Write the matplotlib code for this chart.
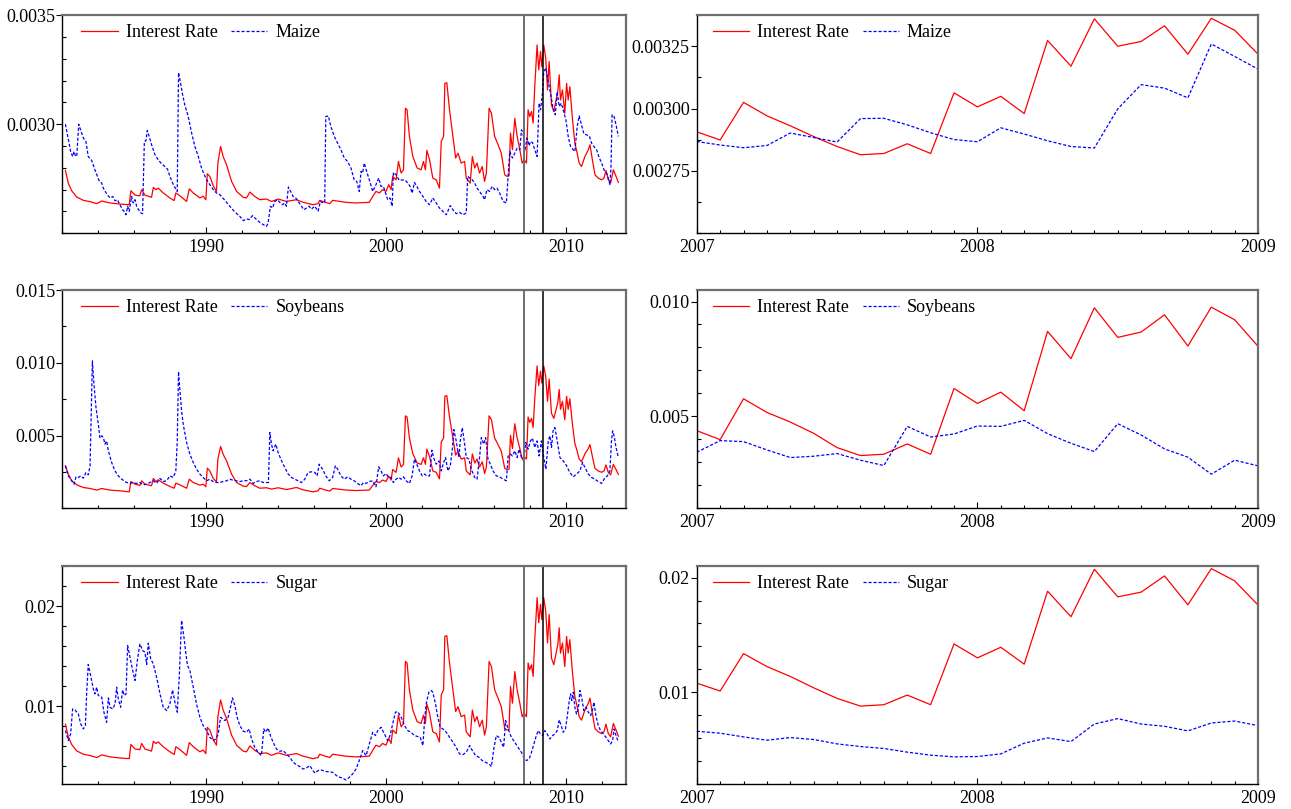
import numpy as np
import matplotlib
matplotlib.use("Agg")
import matplotlib.pyplot as plt
from matplotlib.ticker import MultipleLocator

plt.rcParams['font.family'] = ['Liberation Serif', 'DejaVu Serif']
plt.rcParams['font.size'] = 13

# ---- full sample, interest rate (same dates for all three panels) ----
rate_years = [
    1982.17, 1982.33, 1982.52, 1982.80, 1983.17, 1983.54, 1983.91, 1984.19, 1984.65, 1985.20,
    1985.72, 1985.81, 1986.04, 1986.31, 1986.41, 1986.59, 1986.96, 1987.06, 1987.20, 1987.33,
    1987.61, 1987.98, 1988.22, 1988.31, 1988.54, 1988.91, 1989.06, 1989.28, 1989.65, 1989.83,
    1989.98, 1990.06, 1990.20, 1990.39, 1990.57, 1990.65, 1990.80, 1990.94, 1991.13, 1991.41,
    1991.69, 1992.06, 1992.24, 1992.43, 1992.70, 1992.98, 1993.35, 1993.63, 1994.00, 1994.46,
    1995.02, 1995.39, 1995.94, 1996.22, 1996.31, 1996.59, 1996.87,
    1997.03, 1997.77, 1998.33, 1999.07, 1999.26, 1999.44, 1999.63, 1999.81, 2000.00, 2000.15,
    2000.28, 2000.37, 2000.56, 2000.69, 2000.84, 2000.97, 2001.08, 2001.17, 2001.30, 2001.49,
    2001.73, 2001.95, 2002.08, 2002.19, 2002.27, 2002.42, 2002.60, 2002.79, 2002.97, 2003.07,
    2003.20, 2003.27, 2003.38, 2003.53, 2003.72, 2003.87, 2004.00, 2004.18, 2004.37, 2004.46,
    2004.68, 2004.80, 2004.93, 2005.06, 2005.20, 2005.35, 2005.48, 2005.58, 2005.73, 2005.86,
    2006.04, 2006.23, 2006.41, 2006.60, 2006.73, 2006.84, 2006.92, 2007.03, 2007.16, 2007.29,
    2007.44, 2007.57, 2007.68, 2007.81, 2007.90, 2007.99, 2008.09, 2008.18, 2008.27, 2008.33,
    2008.40, 2008.49, 2008.59, 2008.66, 2008.77, 2008.88, 2008.98, 2009.07, 2009.20, 2009.33,
    2009.48, 2009.55, 2009.63, 2009.70, 2009.81, 2009.94, 2010.04, 2010.13, 2010.22, 2010.37,
    2010.50, 2010.63, 2010.74, 2010.87, 2011.06, 2011.25, 2011.34, 2011.49, 2011.62, 2011.80,
    2011.99, 2012.12, 2012.23, 2012.36, 2012.49, 2012.64, 2012.79, 2012.92]

rate_maize = [
    0.002788, 0.002730, 0.002695, 0.002666, 0.002651, 0.002645, 0.002636, 0.002648, 0.002639, 0.002634,
    0.002631, 0.002695, 0.002675, 0.002672, 0.002700, 0.002675, 0.002665, 0.002710, 0.002700, 0.002707,
    0.002685, 0.002662, 0.002650, 0.002685, 0.002672, 0.002646, 0.002704, 0.002685, 0.002662, 0.002670,
    0.002654, 0.002773, 0.002761, 0.002718, 0.002692, 0.002822, 0.002898, 0.002852, 0.002814, 0.002738,
    0.002692, 0.002665, 0.002662, 0.002689, 0.002669, 0.002654, 0.002657, 0.002646, 0.002657, 0.002646,
    0.002654, 0.002642, 0.002631, 0.002636, 0.002651, 0.002643, 0.002636,
    0.002651, 0.002642, 0.002639, 0.002642, 0.002669, 0.002692, 0.002685, 0.002700, 0.002692, 0.002723,
    0.002700, 0.002761, 0.002745, 0.002829, 0.002776, 0.002791, 0.003073, 0.003066, 0.002944, 0.002852,
    0.002799, 0.002791, 0.002829, 0.002791, 0.002880, 0.002837, 0.002753, 0.002745, 0.002707, 0.002921,
    0.002944, 0.003187, 0.003190, 0.003066, 0.002944, 0.002845, 0.002867, 0.002822, 0.002829, 0.002753,
    0.002730, 0.002852, 0.002799, 0.002822, 0.002776, 0.002806, 0.002738, 0.002776, 0.003073, 0.003050,
    0.002944, 0.002906, 0.002867, 0.002768, 0.002761, 0.002764, 0.002959, 0.002883, 0.003027, 0.002944,
    0.002883, 0.002822, 0.002837, 0.002822, 0.003066, 0.003035, 0.003058, 0.003005, 0.003172, 0.003264,
    0.003363, 0.003249, 0.003333, 0.003264, 0.003363, 0.003302, 0.003157, 0.003287, 0.003088, 0.003058,
    0.003119, 0.003149, 0.003226, 0.003111, 0.003157, 0.003050, 0.003187, 0.003111, 0.003172, 0.003020,
    0.002913, 0.002867, 0.002822, 0.002806, 0.002852, 0.002883, 0.002906, 0.002829, 0.002768, 0.002753,
    0.002745, 0.002753, 0.002788, 0.002745, 0.002730, 0.002791, 0.002761, 0.002733]

rate_soy = [
    0.00292, 0.00235, 0.00189, 0.00161, 0.00143, 0.00136, 0.00125, 0.00136, 0.00125, 0.00120,
    0.00113, 0.00184, 0.00166, 0.00157, 0.00189, 0.00166, 0.00155, 0.00205, 0.00184, 0.00196,
    0.00173, 0.00150, 0.00138, 0.00173, 0.00161, 0.00138, 0.00200, 0.00177, 0.00159, 0.00166,
    0.00148, 0.00276, 0.00257, 0.00205, 0.00182, 0.00338, 0.00425, 0.00372, 0.00326, 0.00235,
    0.00177, 0.00152, 0.00150, 0.00177, 0.00155, 0.00138, 0.00141, 0.00132, 0.00141, 0.00129,
    0.00143, 0.00127, 0.00113, 0.00120, 0.00138, 0.00127, 0.00118,
    0.001361, 0.001255, 0.001219, 0.001255, 0.001574, 0.001846, 0.001764, 0.001941, 0.001846, 0.002213,
    0.001941, 0.002663, 0.002473, 0.003467, 0.002840, 0.003018, 0.006354, 0.006271, 0.004828, 0.003739,
    0.003112, 0.003018, 0.003467, 0.003018, 0.004070, 0.003562, 0.002568, 0.002473, 0.002024, 0.004555,
    0.004828, 0.007702, 0.007738, 0.006271, 0.004828, 0.003656, 0.003917, 0.003384, 0.003467, 0.002568,
    0.002296, 0.003739, 0.003112, 0.003384, 0.002840, 0.003195, 0.002391, 0.002840, 0.006354, 0.006082,
    0.004828, 0.004378, 0.003917, 0.002745, 0.002663, 0.002698, 0.005005, 0.004106, 0.005809, 0.004828,
    0.004106, 0.003384, 0.003562, 0.003384, 0.006271, 0.005904, 0.006176, 0.005549, 0.007525, 0.008613,
    0.009784, 0.008436, 0.009429, 0.008613, 0.009784, 0.009063, 0.007347, 0.008885, 0.006531, 0.006176,
    0.006898, 0.007253, 0.008164, 0.006803, 0.007347, 0.006082, 0.007702, 0.006803, 0.007525, 0.005727,
    0.004461, 0.003917, 0.003384, 0.003195, 0.003739, 0.004106, 0.004378, 0.003467, 0.002745, 0.002568,
    0.002473, 0.002568, 0.002982, 0.002473, 0.002296, 0.003018, 0.002663, 0.002331]

rate_sugar = [
    0.008214, 0.006941, 0.006172, 0.005535, 0.005206, 0.005074, 0.004877, 0.005140, 0.004942, 0.004833,
    0.004767, 0.006172, 0.005733, 0.005667, 0.006282, 0.005733, 0.005513, 0.006502, 0.006282, 0.006436,
    0.005953, 0.005448, 0.005184, 0.005953, 0.005667, 0.005096, 0.006370, 0.005953, 0.005448, 0.005623,
    0.005272, 0.007885, 0.007622, 0.006677, 0.006106, 0.008961, 0.010630, 0.009620, 0.008785, 0.007116,
    0.006106, 0.005513, 0.005448, 0.006040, 0.005601, 0.005272, 0.005338, 0.005096, 0.005338, 0.005096,
    0.005272, 0.005008, 0.004767, 0.004877, 0.005206, 0.005030, 0.004877,
    0.005206, 0.005008, 0.004942, 0.005008, 0.005601, 0.006106, 0.005953, 0.006282, 0.006106, 0.006787,
    0.006282, 0.007622, 0.007270, 0.009115, 0.007951, 0.008280, 0.014473, 0.014319, 0.011640, 0.009620,
    0.008456, 0.008280, 0.009115, 0.008280, 0.010235, 0.009291, 0.007446, 0.007270, 0.006436, 0.011135,
    0.011640, 0.016977, 0.017042, 0.014319, 0.011640, 0.009466, 0.009949, 0.008961, 0.009115, 0.007446,
    0.006941, 0.009620, 0.008456, 0.008961, 0.007951, 0.008610, 0.007116, 0.007951, 0.014473, 0.013968,
    0.011640, 0.010806, 0.009949, 0.007775, 0.007622, 0.007687, 0.011970, 0.010301, 0.013463, 0.011640,
    0.010301, 0.008961, 0.009291, 0.008961, 0.014319, 0.013639, 0.014144, 0.012980, 0.016647, 0.018667,
    0.020841, 0.018338, 0.020183, 0.018667, 0.020841, 0.019502, 0.016318, 0.019173, 0.014802, 0.014144,
    0.015483, 0.016142, 0.017833, 0.015308, 0.016318, 0.013968, 0.016977, 0.015308, 0.016647, 0.013309,
    0.010959, 0.009949, 0.008961, 0.008610, 0.009620, 0.010301, 0.010806, 0.009115, 0.007775, 0.007446,
    0.007270, 0.007446, 0.008214, 0.007270, 0.006941, 0.008280, 0.007622, 0.007007]

# ---- full sample, commodity series ----
maize_years = [
    1982.17, 1982.30, 1982.46, 1982.57, 1982.65, 1982.72, 1982.80, 1982.91, 1982.98, 1983.17,
    1983.31, 1983.44, 1983.63, 1983.81, 1984.06, 1984.19, 1984.28, 1984.46, 1984.65, 1984.80,
    1984.93, 1985.06, 1985.15, 1985.35, 1985.43, 1985.54, 1985.63, 1985.72, 1985.85, 1985.94,
    1986.04, 1986.13, 1986.22, 1986.37, 1986.46, 1986.56, 1986.65, 1986.72, 1986.83, 1986.96,
    1987.15, 1987.33, 1987.48, 1987.70, 1987.85, 1987.98, 1988.17, 1988.31, 1988.39, 1988.46,
    1988.54, 1988.69, 1988.81, 1989.00, 1989.19, 1989.37, 1989.56, 1989.74, 1989.93, 1990.02,
    1990.20, 1990.39, 1990.57, 1990.76, 1991.04, 1991.31, 1991.59, 1991.87, 1992.06, 1992.24,
    1992.39, 1992.57, 1992.80, 1992.98, 1993.17, 1993.35, 1993.44, 1993.57, 1993.69, 1993.81,
    1993.96, 1994.09, 1994.24, 1994.37, 1994.46, 1994.57, 1994.69, 1994.83, 1994.98, 1995.11,
    1995.30, 1995.43, 1995.57, 1995.72, 1995.85, 1996.04, 1996.22, 1996.35, 1996.50, 1996.59,
    1996.65, 1996.79, 1996.93, 1997.12, 1997.31, 1997.49, 1997.68, 1997.86, 1998.05, 1998.23,
    1998.37, 1998.51, 1998.61, 1998.70, 1998.79, 1998.92, 1999.07, 1999.26, 1999.44, 1999.59,
    1999.72, 1999.85, 1999.96, 2000.09, 2000.22, 2000.34, 2000.41, 2000.56, 2000.74, 2000.93,
    2001.08, 2001.21, 2001.34, 2001.45, 2001.58, 2001.71, 2001.86, 2002.05, 2002.23, 2002.42,
    2002.60, 2002.79, 2002.97, 2003.16, 2003.35, 2003.57, 2003.72, 2003.90, 2004.09, 2004.28,
    2004.46, 2004.54, 2004.65, 2004.80, 2004.93, 2005.06, 2005.20, 2005.39, 2005.48, 2005.61,
    2005.76, 2005.91, 2006.04, 2006.17, 2006.32, 2006.51, 2006.69, 2006.79, 2006.88, 2007.03,
    2007.16, 2007.29, 2007.44, 2007.53, 2007.62, 2007.71, 2007.84, 2007.96, 2008.03, 2008.14,
    2008.27, 2008.40, 2008.51, 2008.59, 2008.70, 2008.77, 2008.89, 2009.00, 2009.11, 2009.22,
    2009.29, 2009.41, 2009.52, 2009.63, 2009.74, 2009.85, 2010.00, 2010.13, 2010.26, 2010.41,
    2010.50, 2010.63, 2010.74, 2010.87, 2011.00, 2011.15, 2011.30, 2011.43, 2011.56, 2011.71,
    2011.86, 2011.99, 2012.12, 2012.23, 2012.31, 2012.38, 2012.45, 2012.51, 2012.57, 2012.68,
    2012.79, 2012.92]
maize = [
    0.003000, 0.002944, 0.002875, 0.002852, 0.002875, 0.002857, 0.002852, 0.003000, 0.002982, 0.002936,
    0.002921, 0.002852, 0.002834, 0.002791, 0.002738, 0.002730, 0.002707, 0.002681, 0.002662, 0.002669,
    0.002649, 0.002654, 0.002639, 0.002608, 0.002601, 0.002585, 0.002624, 0.002601, 0.002669, 0.002639,
    0.002654, 0.002624, 0.002611, 0.002593, 0.002590, 0.002921, 0.002924, 0.002971, 0.002944, 0.002906,
    0.002860, 0.002837, 0.002822, 0.002806, 0.002794, 0.002761, 0.002723, 0.002703, 0.002692, 0.003236,
    0.003203, 0.003134, 0.003088, 0.003035, 0.002959, 0.002898, 0.002852, 0.002799, 0.002761, 0.002745,
    0.002723, 0.002700, 0.002685, 0.002677, 0.002651, 0.002624, 0.002598, 0.002578, 0.002558, 0.002566,
    0.002563, 0.002581, 0.002563, 0.002550, 0.002540, 0.002532, 0.002547, 0.002624, 0.002616, 0.002646,
    0.002654, 0.002642, 0.002631, 0.002639, 0.002624, 0.002712, 0.002692, 0.002669, 0.002662, 0.002646,
    0.002624, 0.002608, 0.002616, 0.002624, 0.002611, 0.002624, 0.002601, 0.002646, 0.002639, 0.002642,
    0.003035, 0.003038, 0.002990, 0.002944, 0.002913, 0.002883, 0.002845, 0.002829, 0.002799, 0.002745,
    0.002738, 0.002692, 0.002784, 0.002776, 0.002822, 0.002784, 0.002745, 0.002692, 0.002723, 0.002753,
    0.002715, 0.002715, 0.002688, 0.002654, 0.002662, 0.002624, 0.002779, 0.002768, 0.002742, 0.002745,
    0.002742, 0.002730, 0.002715, 0.002684, 0.002733, 0.002715, 0.002692, 0.002669, 0.002646, 0.002631,
    0.002662, 0.002639, 0.002616, 0.002601, 0.002585, 0.002627, 0.002608, 0.002590, 0.002596, 0.002585,
    0.002593, 0.002761, 0.002753, 0.002745, 0.002730, 0.002707, 0.002692, 0.002669, 0.002654, 0.002700,
    0.002692, 0.002715, 0.002700, 0.002707, 0.002684, 0.002646, 0.002639, 0.002761, 0.002875, 0.002845,
    0.002867, 0.002890, 0.002883, 0.002974, 0.002962, 0.002875, 0.002936, 0.002901, 0.002921, 0.002916,
    0.002883, 0.002852, 0.003096, 0.003066, 0.003142, 0.003241, 0.003257, 0.003203, 0.003157, 0.003104,
    0.003073, 0.003043, 0.003149, 0.003081, 0.003096, 0.003066, 0.003020, 0.002944, 0.002898, 0.002883,
    0.002875, 0.002989, 0.003038, 0.002997, 0.002956, 0.002951, 0.002947, 0.002913, 0.002898, 0.002883,
    0.002845, 0.002822, 0.002791, 0.002779, 0.002768, 0.002745, 0.002723, 0.002806, 0.003043, 0.003035,
    0.002997, 0.002944]

soy_years = [
    1982.17, 1982.33, 1982.52, 1982.65, 1982.76, 1982.89, 1983.02, 1983.17, 1983.31, 1983.44,
    1983.54, 1983.61, 1983.67, 1983.76, 1983.87, 1984.00, 1984.09, 1984.19, 1984.28, 1984.37,
    1984.46, 1984.56, 1984.74, 1984.93, 1985.11, 1985.30, 1985.57, 1985.76, 1985.94, 1986.13,
    1986.31, 1986.50, 1986.69, 1986.87, 1987.06, 1987.24, 1987.43, 1987.61, 1987.80, 1987.98,
    1988.17, 1988.31, 1988.39, 1988.46, 1988.54, 1988.63, 1988.72, 1988.91, 1989.09, 1989.28,
    1989.46, 1989.65, 1989.83, 1990.02, 1990.20, 1990.39, 1990.57, 1990.76, 1990.94, 1991.13,
    1991.31, 1991.50, 1991.69, 1991.87, 1992.06, 1992.24, 1992.43, 1992.61, 1992.80, 1992.98,
    1993.17, 1993.35, 1993.46, 1993.54, 1993.63, 1993.72, 1993.87, 1994.00, 1994.19, 1994.37,
    1994.56, 1994.74, 1994.93, 1995.11, 1995.30, 1995.48, 1995.57, 1995.67, 1995.85, 1996.04,
    1996.17, 1996.28, 1996.47, 1996.65, 1996.84, 1997.03, 1997.18, 1997.31, 1997.49, 1997.68,
    1997.86, 1998.05, 1998.23, 1998.42, 1998.61, 1998.74, 1998.89, 1999.07, 1999.26, 1999.44,
    1999.59, 1999.72, 1999.85, 2000.00, 2000.15, 2000.28, 2000.41, 2000.56, 2000.71, 2000.84,
    2000.97, 2001.12, 2001.30, 2001.45, 2001.58, 2001.71, 2001.86, 2002.01, 2002.14, 2002.27,
    2002.42, 2002.55, 2002.64, 2002.79, 2002.94, 2003.07, 2003.20, 2003.31, 2003.44, 2003.57,
    2003.68, 2003.77, 2003.90, 2004.05, 2004.13, 2004.24, 2004.37, 2004.46, 2004.61, 2004.74,
    2004.93, 2005.06, 2005.20, 2005.30, 2005.43, 2005.54, 2005.67, 2005.80, 2005.95, 2006.13,
    2006.32, 2006.51, 2006.69, 2006.79, 2006.92, 2007.03, 2007.16, 2007.29, 2007.40, 2007.53,
    2007.66, 2007.77, 2007.90, 2008.03, 2008.14, 2008.27, 2008.40, 2008.51, 2008.64, 2008.77,
    2008.89, 2009.02, 2009.11, 2009.20, 2009.29, 2009.39, 2009.52, 2009.67, 2009.85, 2010.04,
    2010.22, 2010.41, 2010.59, 2010.78, 2010.93, 2011.06, 2011.25, 2011.43, 2011.62, 2011.80,
    2011.99, 2012.18, 2012.31, 2012.45, 2012.53, 2012.60, 2012.68, 2012.79, 2012.92]
soybeans = [
    0.00292, 0.00223, 0.00189, 0.00166, 0.00216, 0.00212, 0.00223, 0.00207, 0.00246, 0.00230,
    0.00292, 0.00669, 0.01013, 0.00852, 0.00692, 0.00578, 0.00482, 0.00498, 0.00486, 0.00441,
    0.00463, 0.00395, 0.00315, 0.00257, 0.00223, 0.00200, 0.00177, 0.00171, 0.00177, 0.00171,
    0.00177, 0.00161, 0.00166, 0.00177, 0.00189, 0.00171, 0.00205, 0.00184, 0.00189, 0.00223,
    0.00212, 0.00257, 0.00463, 0.00939, 0.00807, 0.00669, 0.00578, 0.00452, 0.00372, 0.00315,
    0.00269, 0.00235, 0.00212, 0.00189, 0.00200, 0.00184, 0.00177, 0.00177, 0.00184, 0.00189,
    0.00200, 0.00193, 0.00189, 0.00184, 0.00189, 0.00189, 0.00200, 0.00171, 0.00184, 0.00189,
    0.00177, 0.00177, 0.00177, 0.00521, 0.00441, 0.00395, 0.00441, 0.00383, 0.00326, 0.00280,
    0.00235, 0.00212, 0.00200, 0.00189, 0.00177, 0.00200, 0.00223, 0.00246, 0.00251, 0.00246,
    0.00223, 0.00303, 0.00269, 0.00223, 0.00189, 0.00212, 0.00292, 0.00269, 0.00223, 0.00200,
    0.00216, 0.00200, 0.00189, 0.00171, 0.00155, 0.00177, 0.00171, 0.00184, 0.00189, 0.00148,
    0.00285, 0.00257, 0.00223, 0.00239, 0.00212, 0.00212, 0.00177, 0.00200, 0.00212, 0.00200,
    0.00216, 0.00189, 0.00171, 0.00223, 0.00338, 0.00303, 0.00257, 0.00223, 0.00235, 0.00223,
    0.00223, 0.00399, 0.00349, 0.00303, 0.00326, 0.00257, 0.00315, 0.00349, 0.00257, 0.00292,
    0.00395, 0.00541, 0.00463, 0.00349, 0.00463, 0.00555, 0.00441, 0.00349, 0.00338, 0.00269,
    0.00212, 0.00200, 0.00349, 0.00486, 0.00441, 0.00486, 0.00338, 0.00303, 0.00257, 0.00223,
    0.00216, 0.00200, 0.00189, 0.00360, 0.00372, 0.00360, 0.00395, 0.00349, 0.00406, 0.00349,
    0.00326, 0.00452, 0.00406, 0.00463, 0.00482, 0.00418, 0.00463, 0.00360, 0.00463, 0.00349,
    0.00269, 0.00463, 0.00498, 0.00418, 0.00532, 0.00555, 0.00463, 0.00349, 0.00326, 0.00292,
    0.00246, 0.00216, 0.00235, 0.00257, 0.00315, 0.00280, 0.00235, 0.00212, 0.00200, 0.00184,
    0.00171, 0.00212, 0.00223, 0.00257, 0.00452, 0.00532, 0.00498, 0.00418, 0.00349]

sugar_years = [
    1982.17, 1982.33, 1982.46, 1982.57, 1982.70, 1982.89, 1983.02, 1983.17, 1983.28, 1983.35,
    1983.44, 1983.57, 1983.72, 1983.81, 1983.91, 1984.00, 1984.19, 1984.31, 1984.46, 1984.56,
    1984.65, 1984.80, 1984.93, 1985.02, 1985.11, 1985.24, 1985.35, 1985.44, 1985.54, 1985.63,
    1985.76, 1985.91, 1986.04, 1986.17, 1986.31, 1986.46, 1986.59, 1986.69, 1986.78, 1986.91,
    1987.06, 1987.24, 1987.43, 1987.61, 1987.80, 1987.98, 1988.13, 1988.26, 1988.39, 1988.50,
    1988.63, 1988.76, 1988.87, 1988.96, 1989.09, 1989.28, 1989.46, 1989.65, 1989.83, 1990.02,
    1990.20, 1990.39, 1990.54, 1990.67, 1990.80, 1990.91, 1991.04, 1991.22, 1991.35, 1991.46,
    1991.59, 1991.72, 1991.87, 1992.06, 1992.24, 1992.39, 1992.52, 1992.70, 1992.89, 1993.07,
    1993.20, 1993.31, 1993.44, 1993.57, 1993.72, 1993.91, 1994.09, 1994.28, 1994.46, 1994.65,
    1994.83, 1995.02, 1995.20, 1995.39, 1995.57, 1995.76, 1995.94, 1996.04, 1996.22, 1996.41,
    1996.59, 1997.03, 1997.31, 1997.58, 1997.77, 1997.96, 1998.14, 1998.33, 1998.51, 1998.70,
    1998.89, 1999.07, 1999.26, 1999.41, 1999.54, 1999.72, 1999.91, 2000.09, 2000.22, 2000.37,
    2000.52, 2000.65, 2000.84, 2001.02, 2001.21, 2001.39, 2001.58, 2001.77, 2001.90, 2002.05,
    2002.14, 2002.23, 2002.38, 2002.51, 2002.60, 2002.75, 2002.88, 2003.01, 2003.16, 2003.35,
    2003.53, 2003.72, 2003.90, 2004.09, 2004.28, 2004.46, 2004.65, 2004.80, 2004.98, 2005.17,
    2005.35, 2005.54, 2005.73, 2005.86, 2005.99, 2006.13, 2006.28, 2006.41, 2006.54, 2006.65,
    2006.79, 2006.97, 2007.16, 2007.34, 2007.53, 2007.66, 2007.81, 2007.96, 2008.09, 2008.22,
    2008.33, 2008.46, 2008.59, 2008.70, 2008.83, 2008.96, 2009.11, 2009.26, 2009.39, 2009.52,
    2009.63, 2009.74, 2009.85, 2009.98, 2010.07, 2010.19, 2010.26, 2010.33, 2010.41, 2010.50,
    2010.59, 2010.69, 2010.78, 2010.89, 2011.00, 2011.12, 2011.25, 2011.38, 2011.49, 2011.56,
    2011.67, 2011.80, 2011.93, 2012.08, 2012.23, 2012.36, 2012.49, 2012.60, 2012.68, 2012.79,
    2012.92]
sugar = [
    0.00757, 0.00657, 0.00723, 0.00973, 0.00963, 0.00923, 0.00823, 0.00773, 0.00807, 0.01123,
    0.01417, 0.01307, 0.01173, 0.01123, 0.01190, 0.01107, 0.01090, 0.00940, 0.00840, 0.01083,
    0.00990, 0.00973, 0.01023, 0.01190, 0.01073, 0.00990, 0.01163, 0.01107, 0.01123, 0.01607,
    0.01490, 0.01357, 0.01257, 0.01457, 0.01623, 0.01557, 0.01540, 0.01417, 0.01630, 0.01473,
    0.01423, 0.01290, 0.01123, 0.00990, 0.00957, 0.01023, 0.01163, 0.01040, 0.00940, 0.01290,
    0.01857, 0.01690, 0.01523, 0.01407, 0.01357, 0.01190, 0.01023, 0.00890, 0.00807, 0.00757,
    0.00690, 0.00657, 0.00673, 0.00723, 0.00890, 0.00873, 0.00857, 0.00890, 0.00990, 0.01083,
    0.01007, 0.00890, 0.00807, 0.00750, 0.00740, 0.00773, 0.00673, 0.00590, 0.00540, 0.00507,
    0.00773, 0.00740, 0.00783, 0.00707, 0.00640, 0.00573, 0.00550, 0.00557, 0.00523, 0.00490,
    0.00440, 0.00417, 0.00397, 0.00373, 0.00383, 0.00407, 0.00357, 0.00333, 0.00357, 0.00363,
    0.00350, 0.00340, 0.00297, 0.00283, 0.00263, 0.00290, 0.00323, 0.00373, 0.00457, 0.00557,
    0.00507, 0.00623, 0.00740, 0.00707, 0.00757, 0.00790, 0.00723, 0.00657, 0.00707, 0.00823,
    0.00940, 0.00947, 0.00890, 0.00807, 0.00757, 0.00740, 0.00707, 0.00697, 0.00690, 0.00607,
    0.00857, 0.01023, 0.01140, 0.01157, 0.01140, 0.01023, 0.00890, 0.00790, 0.00773, 0.00740,
    0.00690, 0.00640, 0.00590, 0.00523, 0.00517, 0.00540, 0.00607, 0.00557, 0.00507, 0.00490,
    0.00457, 0.00440, 0.00423, 0.00397, 0.00573, 0.00707, 0.00690, 0.00640, 0.00590, 0.00857,
    0.00773, 0.00690, 0.00640, 0.00590, 0.00540, 0.00490, 0.00457, 0.00473, 0.00540, 0.00623,
    0.00690, 0.00757, 0.00723, 0.00707, 0.00757, 0.00723, 0.00673, 0.00707, 0.00723, 0.00757,
    0.00863, 0.00807, 0.00740, 0.00773, 0.00890, 0.01057, 0.01123, 0.01057, 0.01140, 0.00990,
    0.00923, 0.00973, 0.01157, 0.01073, 0.00957, 0.00990, 0.00940, 0.00907, 0.00973, 0.01040,
    0.00907, 0.00807, 0.00757, 0.00723, 0.00690, 0.00657, 0.00623, 0.00657, 0.00773, 0.00707,
    0.00640]

# ---- monthly detail, Jan 2007 - Jan 2009 ----
zoom_rate_maize = [
    0.002907, 0.002874, 0.003025, 0.002971, 0.002931, 0.002888, 0.002848, 0.002815, 0.002820,
    0.002859, 0.002820, 0.003063, 0.003007, 0.003049, 0.002980, 0.003273, 0.003170, 0.003360,
    0.003250, 0.003269, 0.003332, 0.003218, 0.003362, 0.003314, 0.003218]
zoom_maize = [
    0.002868, 0.002854, 0.002843, 0.002852, 0.002902, 0.002884, 0.002866, 0.002960, 0.002961,
    0.002935, 0.002903, 0.002876, 0.002867, 0.002923, 0.002898, 0.002871, 0.002848, 0.002842,
    0.002999, 0.003096, 0.003082, 0.003043, 0.003259, 0.003209, 0.003158]
zoom_rate_soy = [
    0.004379, 0.003988, 0.005766, 0.005173, 0.004754, 0.004263, 0.003642, 0.003295, 0.003353,
    0.003801, 0.003353, 0.006214, 0.005564, 0.006055, 0.005246, 0.008699, 0.007514, 0.009725,
    0.008439, 0.008671, 0.009422, 0.008064, 0.009754, 0.009205, 0.008049]
zoom_soy = [
    0.003439, 0.003945, 0.003902, 0.003541, 0.003208, 0.003266, 0.003382, 0.003093, 0.002861,
    0.004566, 0.004104, 0.004234, 0.004581, 0.004566, 0.004827, 0.004249, 0.003830, 0.003468,
    0.004682, 0.004191, 0.003584, 0.003223, 0.002486, 0.003093, 0.002847]
zoom_rate_sugar = [
    0.01081, 0.01012, 0.01338, 0.01225, 0.01139, 0.01040, 0.00948, 0.00881, 0.00893, 0.00977,
    0.00893, 0.01422, 0.01301, 0.01393, 0.01246, 0.01881, 0.01659, 0.02072, 0.01832, 0.01873,
    0.02014, 0.01763, 0.02078, 0.01971, 0.01760]
zoom_sugar = [
    0.00662, 0.00645, 0.00613, 0.00584, 0.00607, 0.00590, 0.00552, 0.00529, 0.00512, 0.00480,
    0.00454, 0.00439, 0.00442, 0.00465, 0.00558, 0.00604, 0.00572, 0.00725, 0.00772, 0.00725,
    0.00705, 0.00665, 0.00734, 0.00751, 0.00711]

zoom_x = 2007 + np.arange(len(zoom_rate_maize)) / 12.0
box = (2007.66, 2008.74)   # window marked on the long-run panels

panels = [
    dict(label="Maize", rate=rate_maize, yrs=maize_years, val=maize,
         zrate=zoom_rate_maize, zval=zoom_maize,
         ylim=(0.0025, 0.0035), yt=[0.0030, 0.0035], ytl=["0.0030", "0.0035"], ym=0.0001,
         zylim=(0.0025, 0.003375), zyt=[0.00275, 0.0030, 0.00325],
         zytl=["0.00275", "0.00300", "0.00325"], zym=0.000125),
    dict(label="Soybeans", rate=rate_soy, yrs=soy_years, val=soybeans,
         zrate=zoom_rate_soy, zval=zoom_soy,
         ylim=(0.0, 0.015), yt=[0.005, 0.010, 0.015], ytl=["0.005", "0.010", "0.015"], ym=0.0025,
         zylim=(0.001, 0.0105), zyt=[0.005, 0.010], zytl=["0.005", "0.010"], zym=0.001),
    dict(label="Sugar", rate=rate_sugar, yrs=sugar_years, val=sugar,
         zrate=zoom_rate_sugar, zval=zoom_sugar,
         ylim=(0.0022, 0.024), yt=[0.01, 0.02], ytl=["0.01", "0.02"], ym=0.002,
         zylim=(0.002, 0.021), zyt=[0.01, 0.02], zytl=["0.01", "0.02"], zym=0.002),
]

RED = "#ff0000"
BLUE = "#0000ff"
rows_y = [0.7116, 0.3717, 0.0305]
row_h = 0.2698

fig = plt.figure(figsize=(12.91, 8.09), dpi=100)


def style(ax):
    for s in ("left", "bottom"):
        ax.spines[s].set_color("black")
        ax.spines[s].set_linewidth(1.0)
    for s in ("top", "right"):
        ax.spines[s].set_color("#6e6e6e")
        ax.spines[s].set_linewidth(1.6)
    ax.tick_params(axis="y", which="major", direction="out", length=4, width=0.8, pad=1)
    ax.tick_params(axis="y", which="minor", direction="in", length=3, width=0.8)
    ax.tick_params(axis="x", which="major", direction="in", length=4, width=0.8, pad=4)
    ax.tick_params(axis="x", which="minor", direction="in", length=2.5, width=0.8)
    ax.tick_params(top=False, right=False)


def add_legend(ax, label, xpad):
    ax.legend([ax.lines[0], ax.lines[1]], ["Interest Rate", label], loc="upper left",
              bbox_to_anchor=(xpad, 0.99), ncol=2, frameon=False, handlelength=2.0,
              handletextpad=0.45, columnspacing=0.75, borderaxespad=0.0, fontsize=13)


for p, y0 in zip(panels, rows_y):
    # long run
    ax = fig.add_axes([0.0483, y0, 0.4364, row_h])
    ax.plot(rate_years, p["rate"], color=RED, lw=0.9)
    ax.plot(p["yrs"], p["val"], color=BLUE, lw=0.9, dashes=(2.5, 1.5))
    ax.axvline(box[0], color="#6e6e6e", lw=1.4)
    ax.axvline(box[1], color="black", lw=1.1)
    ax.set_xlim(1982, 2013.33)
    ax.set_ylim(*p["ylim"])
    ax.set_xticks([1990, 2000, 2010])
    ax.xaxis.set_minor_locator(MultipleLocator(2))
    ax.set_yticks(p["yt"])
    ax.set_yticklabels(p["ytl"])
    ax.yaxis.set_minor_locator(MultipleLocator(p["ym"]))
    style(ax)
    add_legend(ax, p["label"], 0.021)

    # 2007-2009 detail
    az = fig.add_axes([0.5397, y0, 0.4348, row_h])
    az.plot(zoom_x, p["zrate"], color=RED, lw=0.9)
    az.plot(zoom_x, p["zval"], color=BLUE, lw=0.9, dashes=(2.5, 1.5))
    az.set_xlim(2007, 2009)
    az.set_ylim(*p["zylim"])
    az.set_xticks([2007, 2008, 2009])
    az.xaxis.set_minor_locator(MultipleLocator(1 / 12))
    az.set_yticks(p["zyt"])
    az.set_yticklabels(p["zytl"])
    az.yaxis.set_minor_locator(MultipleLocator(p["zym"]))
    style(az)
    add_legend(az, p["label"], 0.016)

fig.savefig("out.png", dpi=100)
